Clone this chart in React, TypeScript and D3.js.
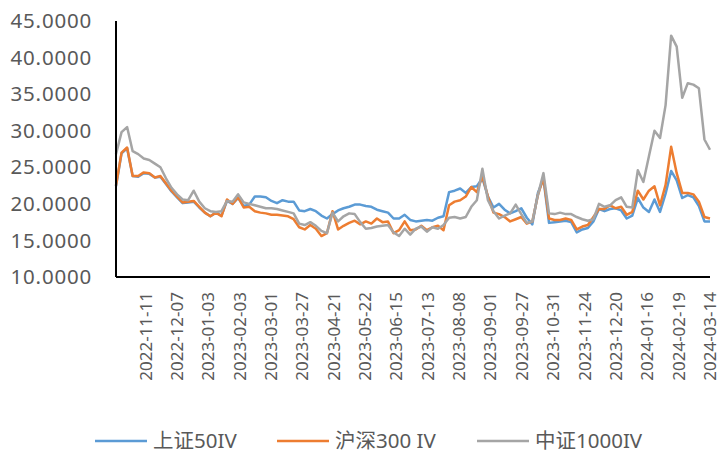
import React, { useEffect, useRef } from 'react';
import * as d3 from 'd3';

// every 3 trading days, late Oct 2022 .. 2024-03-14
const sz50 = [
  22.4, 26.9, 27.6, 23.8, 23.7, 24.2, 24.1, 23.6, 23.7, 22.7, 21.7, 20.9, 20.1, 20.2, 20.3, 19.5, 18.8, 18.3,
  18.8, 18.4, 20.4, 20.0, 20.8, 19.7, 19.9, 21.0, 21.0, 20.9, 20.4, 20.1, 20.5, 20.3, 20.3, 19.1, 19.0, 19.3,
  19.0, 18.4, 18.0, 18.6, 19.1, 19.4, 19.6, 19.9, 19.9, 19.7, 19.6, 19.2, 19.0, 18.8, 18.0, 18.0, 18.5, 17.8,
  17.6, 17.7, 17.8, 17.7, 18.1, 18.3, 21.6, 21.8, 22.1, 21.5, 22.3, 22.4, 23.5, 21.0, 19.5, 20.0, 19.2, 18.7,
  19.0, 19.4, 18.1, 17.2, 21.5, 23.4, 17.4, 17.5, 17.6, 17.7, 17.5, 16.1, 16.5, 16.7, 17.6, 19.3, 19.0, 19.3,
  19.4, 19.1, 18.0, 18.4, 20.8, 19.5, 18.9, 20.6, 18.9, 21.4, 24.5, 23.2, 20.8, 21.2, 20.9, 19.7, 17.6, 17.6,
];

const hs300 = [
  22.5, 27.0, 27.7, 23.8, 23.8, 24.3, 24.2, 23.6, 23.8, 22.8, 21.8, 21.0, 20.2, 20.3, 20.4, 19.6, 18.8, 18.3,
  18.8, 18.3, 20.6, 20.0, 20.9, 19.5, 19.6, 19.0, 18.8, 18.7, 18.5, 18.5, 18.4, 18.3, 17.9, 16.8, 16.5, 17.1,
  16.6, 15.6, 16.0, 19.0, 16.5, 17.0, 17.4, 17.7, 17.2, 17.6, 17.3, 18.0, 17.5, 17.6, 16.0, 16.4, 17.6, 16.4,
  16.5, 17.0, 16.4, 16.8, 17.0, 16.4, 19.8, 20.3, 20.5, 21.0, 22.3, 21.6, 23.8, 21.0, 18.8, 18.6, 18.2, 17.6,
  17.9, 18.2, 17.3, 17.6, 21.2, 23.6, 18.0, 17.8, 17.8, 18.0, 17.8, 16.5, 16.9, 17.1, 18.2, 19.3, 19.3, 19.8,
  19.4, 19.6, 18.5, 18.9, 21.8, 20.6, 21.8, 22.4, 19.8, 22.6, 27.8, 24.2, 21.5, 21.5, 21.3, 20.3, 18.2, 18.0,
];

const zz1000 = [
  26.8, 29.8, 30.5, 27.2, 26.8, 26.2, 26.0, 25.5, 25.0, 23.5, 22.2, 21.3, 20.6, 20.5, 21.8, 20.3, 19.4, 19.0,
  18.9, 19.0, 20.4, 20.3, 21.3, 20.2, 20.0, 19.8, 19.6, 19.4, 19.4, 19.3, 19.1, 18.9, 18.7, 17.3, 17.1, 17.5,
  17.0, 16.3, 16.0, 18.8, 17.6, 18.3, 18.7, 18.6, 17.5, 16.6, 16.7, 16.9, 17.0, 17.1, 16.1, 15.6, 16.6, 15.8,
  16.6, 16.9, 16.2, 16.8, 16.6, 17.1, 18.1, 18.2, 18.0, 18.2, 19.6, 20.5, 24.8, 20.5, 19.0, 18.0, 18.4, 18.7,
  19.9, 18.6, 17.4, 17.6, 21.2, 24.2, 18.7, 18.6, 18.8, 18.6, 18.6, 18.2, 17.9, 17.7, 17.9, 20.0, 19.6, 19.8,
  20.5, 20.9, 19.6, 19.5, 24.6, 23.0, 26.5, 30.0, 29.0, 33.5, 43.0, 41.5, 34.5, 36.5, 36.3, 35.8, 28.8, 27.4,
];

const tickDates = [
  '2022-11-11', '2022-12-07', '2023-01-03', '2023-02-03', '2023-03-01', '2023-03-27',
  '2023-04-21', '2023-05-22', '2023-06-15', '2023-07-13', '2023-08-08', '2023-09-01',
  '2023-09-27', '2023-10-31', '2023-11-24', '2023-12-20', '2024-01-16', '2024-02-19', '2024-03-14',
];

const seriesNames = ['上证50IV', '沪深300 IV', '中证1000IV'];
const colors = ['#5B9BD5', '#ED7D31', '#A5A5A5'];
const yTicks = [10, 15, 20, 25, 30, 35, 40, 45];

const totalDays = 341; // trading days shown on the axis
const firstLabelDay = 17;
const labelEvery = 18;

const App = () => {
  const ref = useRef(null);

  useEffect(() => {
    const svg = d3.select(ref.current);
    svg.selectAll('*').remove();

    const width = 720;
    const height = 454;
    const margin = { top: 21, right: 10, bottom: 177, left: 116 };
    const font = '"Noto Sans", "Noto Sans CJK SC", sans-serif';
    const n = sz50.length;
    const dayOf = (i) => (i * totalDays) / (n - 1);

    const x = d3.scaleLinear()
      .domain([0, totalDays])
      .range([margin.left, width - margin.right]);
    const y = d3.scaleLinear()
      .domain([10, 45])
      .range([height - margin.bottom, margin.top]);

    // y labels
    svg.append('g')
      .selectAll('text')
      .data(yTicks)
      .enter().append('text')
      .attr('x', 92)
      .attr('y', d => y(d))
      .attr('dy', '0.35em')
      .attr('text-anchor', 'end')
      .attr('font-family', font)
      .attr('font-size', 20.5)
      .attr('letter-spacing', 0.8)
      .attr('fill', '#595959')
      .text(d => d.toFixed(4));

    // x labels, rotated
    svg.append('g')
      .selectAll('text')
      .data(tickDates)
      .enter().append('text')
      .attr('transform', (d, i) => `translate(${x(firstLabelDay + i * labelEvery)}, ${height - margin.bottom + 15}) rotate(-90)`)
      .attr('dy', '0.35em')
      .attr('text-anchor', 'end')
      .attr('font-family', font)
      .attr('font-size', 17)
      .attr('fill', '#595959')
      .text(d => d);

    const line = d3.line<number>()
      .x((d, i) => x(dayOf(i)))
      .y(d => y(d));

    [sz50, hs300, zz1000].forEach((s, k) => {
      svg.append('path')
        .datum(s)
        .attr('d', line)
        .attr('fill', 'none')
        .attr('stroke', colors[k])
        .attr('stroke-width', 2.5)
        .attr('stroke-linejoin', 'round');
    });

    // axis lines
    svg.append('line')
      .attr('x1', margin.left).attr('x2', margin.left)
      .attr('y1', margin.top).attr('y2', height - margin.bottom)
      .attr('stroke', '#000').attr('stroke-width', 2);
    svg.append('line')
      .attr('x1', margin.left).attr('x2', width - margin.right)
      .attr('y1', height - margin.bottom).attr('y2', height - margin.bottom)
      .attr('stroke', '#000').attr('stroke-width', 2);

    // legend
    const legendX = [95, 277, 477];
    const lg = svg.append('g').selectAll('g')
      .data(seriesNames)
      .enter().append('g')
      .attr('transform', (d, i) => `translate(${legendX[i]}, 441)`);
    lg.append('line')
      .attr('x1', 0).attr('x2', 52)
      .attr('stroke', (d, i) => colors[i])
      .attr('stroke-width', 2.5);
    lg.append('text')
      .attr('x', 58)
      .attr('dy', '0.35em')
      .attr('font-family', font)
      .attr('font-size', 20.5)
      .attr('fill', '#595959')
      .text(d => d);
  }, []);

  return (
    <svg ref={ref} width={720} height={454} style={{ position: 'absolute', left: 0, top: 0, background: '#fff' }}></svg>
  );
};

export default App;
